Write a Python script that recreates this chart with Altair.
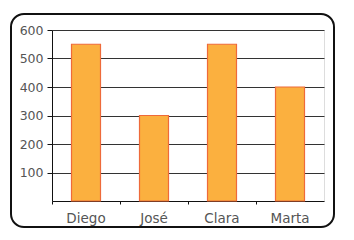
import altair as alt
import pandas as pd

names = ["Diego", "José", "Clara", "Marta"]
values = [550, 300, 550, 400]

df = pd.DataFrame({"name": names, "value": values})

W, H = 272, 171
FONT = "DejaVu Sans"

frame = alt.Chart(pd.DataFrame({"a": [0]})).mark_rect(
    fill=None, stroke="#111", strokeWidth=2, cornerRadius=13, clip=False
).encode(
    x=alt.value(-41), x2=alt.value(W + 10), y=alt.value(-16), y2=alt.value(H + 26)
)

bars = alt.Chart(df).mark_bar(
    fill="#FBB03F", stroke="#EE6A3A", strokeWidth=1.2, width=29
).encode(
    x=alt.X("name:N", sort=names, title=None,
            scale=alt.Scale(paddingInner=0, paddingOuter=0),
            axis=alt.Axis(labelAngle=0, labelFont=FONT, labelFontSize=13.5,
                          labelColor="#555", labelPadding=7, domainColor="#111",
                          tickColor="#111", tickSize=3, bandPosition=0, grid=False)),
    y=alt.Y("value:Q", title=None,
            scale=alt.Scale(domain=[0, 600], nice=False),
            axis=alt.Axis(values=[100, 200, 300, 400, 500, 600], labelFont=FONT,
                          labelFontSize=12.5, labelColor="#555", labelPadding=4,
                          domainColor="#111", tickColor="#111", tickSize=5,
                          gridColor="#333", gridWidth=1)),
)

chart = alt.layer(frame, bars).properties(
    width=W, height=H,
    autosize=alt.AutoSizeParams(type="none"),
    padding={"left": 52, "top": 30, "right": 30, "bottom": 39},
).configure_view(stroke=None).configure(background="white")

chart.save("out.html", embed_options={"renderer": "svg", "actions": False})
